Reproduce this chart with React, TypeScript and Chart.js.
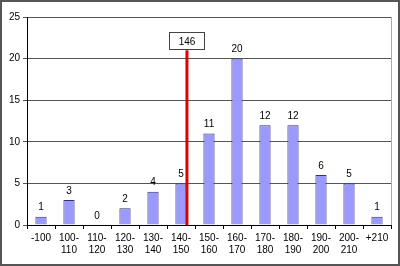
import React, { useEffect, useRef } from 'react';
import { Chart, registerables } from 'chart.js';
Chart.register(...registerables);

const categories: string[][] = [
  ['-100'], ['100-', '110'], ['110-', '120'], ['120-', '130'], ['130-', '140'],
  ['140-', '150'], ['150-', '160'], ['160-', '170'], ['170-', '180'],
  ['180-', '190'], ['190-', '200'], ['200-', '210'], ['+210'],
];
const counts = [1, 3, 0, 2, 4, 5, 11, 20, 12, 12, 6, 5, 1];
const yMin = 0;
const yMax = 25;
const yStep = 5;
const markerValue = 146;
const markerTop = 21;
const binRangeStart = 90;
const binRangeEnd = 220;

const FONT = 'Arial, "Liberation Sans", sans-serif';

export default function App() {
  const ref = useRef<HTMLCanvasElement | null>(null);
  useEffect(() => {
    document.body.style.margin = '0';
    const canvas = ref.current!;
    const framePlugin = {
      id: 'frame',
      beforeDraw(chart: any) {
        const ctx = chart.ctx;
        ctx.save();
        ctx.fillStyle = '#fff';
        ctx.fillRect(0, 0, chart.width, chart.height);
        ctx.strokeStyle = '#555';
        ctx.lineWidth = 2;
        ctx.strokeRect(1, 1, chart.width - 2, chart.height - 2);
        ctx.restore();
      },
      afterDraw(chart: any) {
        const { ctx, chartArea } = chart;
        ctx.save();
        ctx.strokeStyle = '#aaa';
        ctx.lineWidth = 1;
        ctx.beginPath();
        ctx.moveTo(Math.round(chartArea.right) + 0.5, chartArea.top);
        ctx.lineTo(Math.round(chartArea.right) + 0.5, chartArea.bottom);
        ctx.stroke();
        ctx.restore();
      },
      afterDatasetsDraw(chart: any) {
        const ctx = chart.ctx;
        ctx.save();
        ctx.font = `10px ${FONT}`;
        ctx.fillStyle = '#000';
        ctx.textAlign = 'center';
        ctx.textBaseline = 'bottom';
        const barMeta = chart.getDatasetMeta(1);
        barMeta.data.forEach((el: any, i: number) => {
          ctx.fillText(String(counts[i]), el.x, el.y - 4);
        });
        const lineMeta = chart.getDatasetMeta(0);
        const top = lineMeta.data[1];
        const w = 35, h = 17;
        const bx = Math.round(top.x - w / 2) + 0.5;
        const by = Math.round(top.y - h - 1) + 0.5;
        ctx.fillStyle = '#fff';
        ctx.fillRect(bx, by, w, h);
        ctx.strokeStyle = '#444';
        ctx.lineWidth = 1;
        ctx.strokeRect(bx, by, w, h);
        ctx.fillStyle = '#000';
        ctx.textBaseline = 'middle';
        ctx.fillText(String(markerValue), bx + w / 2, by + h / 2 + 1);
        ctx.restore();
      },
    };
    const chart = new Chart(canvas, {
      type: 'bar',
      data: {
        labels: categories as any,
        datasets: [
          {
            type: 'line',
            xAxisID: 'x2',
            data: [{ x: markerValue, y: 0 }, { x: markerValue, y: markerTop }] as any,
            borderColor: '#e00000',
            borderWidth: 3,
            pointRadius: 0,
            order: 0,
          } as any,
          {
            type: 'bar',
            data: counts,
            backgroundColor: '#9999ff',
            borderColor: '#333366',
            borderWidth: 1,
            barPercentage: 0.4,
            categoryPercentage: 1,
            grouped: false,
            order: 1,
          } as any,
        ],
      },
      options: {
        responsive: false,
        animation: false,
        layout: { padding: { top: 17, right: 9, left: 0, bottom: 0 } },
        plugins: { legend: { display: false }, tooltip: { enabled: false } },
        scales: {
          x: {
            offset: true,
            grid: { display: true, offset: true, drawOnChartArea: false, tickLength: 4, color: '#000' },
            border: { color: '#000' },
            ticks: { color: '#000', font: { family: FONT, size: 10 }, padding: 3, maxRotation: 0, autoSkip: false },
            afterFit(scale: any) { scale.height = 41; },
          },
          x2: {
            type: 'linear',
            display: false,
            min: binRangeStart,
            max: binRangeEnd,
          },
          y: {
            min: yMin,
            max: yMax,
            ticks: { stepSize: yStep, color: '#000', font: { family: FONT, size: 10 }, padding: 3 },
            grid: { color: '#555', tickLength: 4 },
            border: { color: '#000' },
            afterFit(scale: any) { scale.width = 27; },
          },
        },
      },
      plugins: [framePlugin],
    });
    return () => chart.destroy();
  }, []);
  return (
    <div style={{ width: 400, height: 266 }}>
      <canvas ref={ref} width={400} height={266} style={{ display: 'block', width: 400, height: 266 }} />
    </div>
  );
}
